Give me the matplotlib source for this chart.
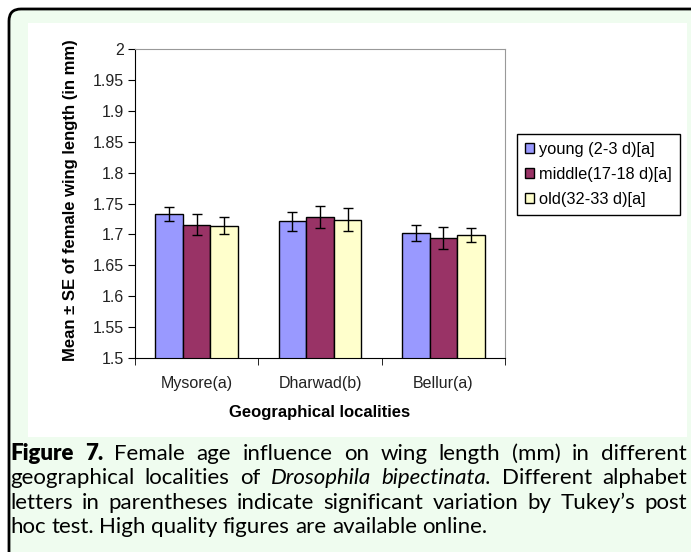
import matplotlib
matplotlib.use("Agg")
import matplotlib.pyplot as plt
import numpy as np
from matplotlib.patches import FancyBboxPatch, Rectangle
from matplotlib.ticker import FuncFormatter

# data
localities = ["Mysore(a)", "Dharwad(b)", "Bellur(a)"]
groups = ["young (2-3 d)[a]", "middle(17-18 d)[a]", "old(32-33 d)[a]"]
young = [1.733, 1.721, 1.703]
middle = [1.716, 1.728, 1.694]
old = [1.714, 1.724, 1.699]
young_se = [0.012, 0.015, 0.013]
middle_se = [0.017, 0.018, 0.018]
old_se = [0.014, 0.018, 0.011]
yticks = [1.5, 1.55, 1.6, 1.65, 1.7, 1.75, 1.8, 1.85, 1.9, 1.95, 2.0]
colors = ["#9999ff", "#993366", "#ffffcc"]

caption = [
    [("Figure", "bold"), ("7.", "bold"), ("Female", "normal"), ("age", "normal"),
     ("influence", "normal"), ("on", "normal"), ("wing", "normal"), ("length", "normal"),
     ("(mm)", "normal"), ("in", "normal"), ("different", "normal")],
    [("geographical", "normal"), ("localities", "normal"), ("of", "normal"),
     ("Drosophila", "italic"), ("bipectinata.", "italic"), ("Different", "normal"),
     ("alphabet", "normal")],
    [("letters", "normal"), ("in", "normal"), ("parentheses", "normal"), ("indicate", "normal"),
     ("significant", "normal"), ("variation", "normal"), ("by", "normal"),
     ("Tukey\u2019s", "normal"), ("post", "normal")],
    [("hoc", "normal"), ("test.", "normal"), ("High", "normal"), ("quality", "normal"),
     ("figures", "normal"), ("are", "normal"), ("available", "normal"), ("online.", "normal")],
]

W, H = 691, 552
fig = plt.figure(figsize=(W / 100, H / 100), dpi=100)
fig.patch.set_facecolor("white")
plt.rcParams["font.family"] = ["Liberation Sans", "DejaVu Sans"]

# background in pixel units
bg = fig.add_axes([0, 0, 1, 1])
bg.set_xlim(0, W)
bg.set_ylim(H, 0)
bg.axis("off")
bg.set_zorder(0)
bg.add_patch(FancyBboxPatch((9, 9), 800, 700, boxstyle="round,pad=0,rounding_size=12",
                            facecolor="#effcef", edgecolor="black", lw=2))
bg.add_patch(Rectangle((28, 23), 659, 414, facecolor="white", edgecolor="none"))

ax = fig.add_axes([135 / W, 1 - 358 / H, 370 / W, 309 / H])
ax.set_zorder(1)

x = np.arange(len(localities))
w = 0.223
for i, (vals, se) in enumerate([(young, young_se), (middle, middle_se), (old, old_se)]):
    ax.bar(x + (i - 1) * w, vals, w, color=colors[i], edgecolor="black", lw=1,
           label=groups[i], zorder=2)
    ax.errorbar(x + (i - 1) * w, vals, yerr=se, fmt="none", ecolor="black",
                elinewidth=1, capsize=3.3, capthick=1, zorder=3)

ax.set_xlim(-0.5, 2.5)
ax.set_ylim(1.5, 2.0)
ax.set_yticks(yticks)
ax.yaxis.set_major_formatter(FuncFormatter(lambda v, p: "%g" % v))
ax.set_xticks(x)
ax.set_xticklabels(localities, fontsize=11.5)
ax.set_xticks([-0.5, 0.5, 1.5, 2.5], minor=True)
ax.tick_params(axis="x", which="major", length=0, pad=13)
ax.tick_params(axis="x", which="minor", length=5, direction="out", color="black")
ax.tick_params(axis="y", length=5, direction="out", labelsize=11.5, pad=3)
for lab in ax.get_yticklabels() + ax.get_xticklabels():
    lab.set_color("#222222")

ax.spines["left"].set_color("black")
ax.spines["bottom"].set_color("black")
ax.spines["top"].set_color("#999999")
ax.spines["right"].set_color("#999999")

ax.set_ylabel("Mean \u00b1 SE of female wing length (in mm)", fontweight="bold", fontsize=12)
ax.yaxis.set_label_coords(-0.155, 0.51)
ax.set_xlabel("Geographical localities", fontweight="bold", fontsize=12)
ax.xaxis.set_label_coords(0.5, -0.153)

leg = fig.legend(loc="upper left", bbox_to_anchor=(517 / W, 1 - 134 / H), borderaxespad=0,
                 fancybox=False, edgecolor="black", framealpha=1,
                 prop={"size": 11.8},
                 handlelength=0.55, handleheight=0.55, handletextpad=0.3,
                 labelspacing=0.6, borderpad=0.5)
leg.get_frame().set_linewidth(1)

# justified caption
renderer = fig.canvas.get_renderer()
left, right = 10, 687
baselines = [460, 484.5, 509, 533]
for li, line in enumerate(caption):
    texts = []
    for word, style in line:
        t = bg.text(0, baselines[li], word, family=["Lato", "DejaVu Sans"], fontsize=16,
                    fontweight="heavy" if style == "bold" else "normal",
                    fontstyle="italic" if style == "italic" else "normal",
                    va="baseline", ha="left", color="black")
        texts.append(t)
    widths = [t.get_window_extent(renderer).width for t in texts]
    if li < len(caption) - 1:
        gap = (right - left - sum(widths)) / (len(texts) - 1)
    else:
        gap = 5.5
    pos = left
    for t, wd in zip(texts, widths):
        t.set_x(pos)
        pos += wd + gap

fig.savefig("out.png", dpi=100)
